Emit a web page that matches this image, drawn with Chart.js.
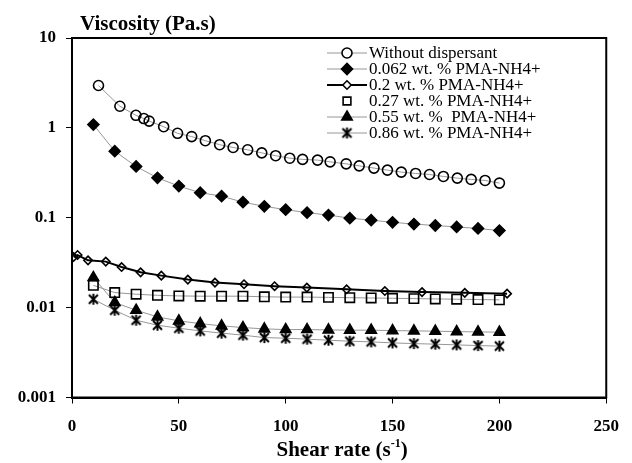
<!DOCTYPE html>
<html>
<head>
<meta charset="utf-8">
<script src="https://cdn.jsdelivr.net/npm/chart.js@4/dist/chart.umd.min.js"></script>
<style>
  html, body { margin: 0; padding: 0; background: #fff; }
  #wrap { width: 632px; height: 463px; position: relative; }
</style>
</head>
<body>
<div id="wrap"><canvas id="chart" width="632" height="463"></canvas></div>
<script>
// shear rates (s-1)
const rateX = [10, 20, 30, 40, 50, 60, 70, 80, 90, 100, 110, 120, 130, 140, 150, 160, 170, 180, 190, 200];
const noDispX = [12.4, 22.4, 29.9, 33.6, 36.1, 42.9, 49.4, 56, 62.4, 69.1, 75.4, 82.2, 88.8, 95.3, 101.9, 107.9, 114.9, 120.8, 128.3, 134.4, 141.3, 147.6, 154.1, 160.8, 167.3, 173.8, 180.3, 186.8, 193.3, 200];
const pma02X = [0.74, 2.6, 7.5, 15.8, 23.2, 32.1, 41.8, 54.2, 66.9, 80.5, 94.8, 109.9, 128.5, 146.4, 163.8, 183.8, 203.6];

// viscosity (Pa.s)
const noDispY = [2.96, 1.74, 1.38, 1.27, 1.19, 1.03, 0.87, 0.80, 0.72, 0.65, 0.605, 0.57, 0.527, 0.49, 0.46, 0.446, 0.438, 0.419, 0.398, 0.378, 0.357, 0.339, 0.322, 0.311, 0.303, 0.288, 0.276, 0.267, 0.26, 0.243];
const pma0062Y = [1.09, 0.55, 0.372, 0.278, 0.225, 0.19, 0.174, 0.149, 0.134, 0.123, 0.114, 0.107, 0.099, 0.094, 0.089, 0.085, 0.082, 0.079, 0.076, 0.072];
const pma02Y = [0.0366, 0.0385, 0.0336, 0.0325, 0.0283, 0.0247, 0.0227, 0.0205, 0.019, 0.0182, 0.0173, 0.0167, 0.016, 0.0153, 0.0149, 0.0146, 0.0143];
const pma027Y = [0.0177, 0.0147, 0.0141, 0.0137, 0.0135, 0.0134, 0.0134, 0.0134, 0.0132, 0.0131, 0.0131, 0.0130, 0.0129, 0.0128, 0.0127, 0.0126, 0.0125, 0.0124, 0.0123, 0.0122];
const pma055Y = [0.0216, 0.0114, 0.00935, 0.00789, 0.00712, 0.00664, 0.00627, 0.0060, 0.0058, 0.0057, 0.0057, 0.00565, 0.00561, 0.00561, 0.00555, 0.00551, 0.00547, 0.00541, 0.00537, 0.00533];
const pma086Y = [0.0124, 0.00935, 0.00724, 0.00637, 0.0059, 0.00551, 0.0052, 0.00494, 0.00464, 0.00457, 0.00446, 0.00434, 0.00423, 0.00416, 0.00405, 0.00398, 0.00392, 0.00385, 0.00378, 0.00373];

const seriesNames = ['Without dispersant', '0.062 wt. % PMA-NH4+', '0.2 wt. % PMA-NH4+', '0.27 wt. % PMA-NH4+', '0.55 wt. %  PMA-NH4+', '0.86 wt. % PMA-NH4+'];
const yTicks = [0.001, 0.01, 0.1, 1, 10];
const yTickLabels = ['0.001', '0.01', '0.1', '1', '10'];
const xTicks = [0, 50, 100, 150, 200, 250];

const SERIF = '"Liberation Serif", "Times New Roman", serif';
const THIN = '#969696';

function pts(xs, ys) {
  return xs.map((x, i) => ({ x: x, y: ys[i] }));
}

// asterisk marker (X with a vertical bar)
function makeStar() {
  const c = document.createElement('canvas');
  c.width = 13; c.height = 13;
  const g = c.getContext('2d');
  g.strokeStyle = '#000';
  g.lineWidth = 2;
  g.beginPath();
  g.moveTo(2, 2); g.lineTo(11, 11);
  g.moveTo(11, 2); g.lineTo(2, 11);
  g.moveTo(6.5, 1); g.lineTo(6.5, 12);
  g.stroke();
  return c;
}
const starImg = makeStar();

function series(label, data, style, radius, fill, lineColor, lineWidth, legendLine) {
  return {
    label: label,
    data: data,
    showLine: true,
    borderColor: lineColor,
    borderWidth: lineWidth,
    pointStyle: style,
    pointRadius: radius,
    pointHoverRadius: radius,
    pointBorderColor: '#000',
    pointBackgroundColor: fill ? '#000' : 'rgba(0,0,0,0)',
    pointBorderWidth: 1.6,
    tension: 0,
    legendLine: legendLine
  };
}

const datasets = [
  series(seriesNames[0], pts(noDispX, noDispY), 'circle', 5, false, THIN, 1, 'thin'),
  series(seriesNames[1], pts(rateX, pma0062Y), 'rectRot', 5.5, true, THIN, 1, 'thin'),
  series(seriesNames[2], pts(pma02X, pma02Y), 'rectRot', 4.2, false, '#000', 2, 'thick'),
  series(seriesNames[3], pts(rateX, pma027Y), 'rect', 6.6, false, THIN, 1, 'none'),
  series(seriesNames[4], pts(rateX, pma055Y), 'triangle', 6, true, THIN, 1, 'thin'),
  series(seriesNames[5], pts(rateX, pma086Y), starImg, 6, false, THIN, 1, 'thin')
];

const framePlugin = {
  id: 'frame',
  afterDatasetsDraw(chart) {
    const a = chart.chartArea;
    const ctx = chart.ctx;
    ctx.save();
    ctx.strokeStyle = '#000';
    ctx.lineWidth = 2;
    ctx.strokeRect(a.left, a.top, a.right - a.left, a.bottom - a.top);
    ctx.restore();
  }
};

const textPlugin = {
  id: 'texts',
  afterDraw(chart) {
    const ctx = chart.ctx;
    const a = chart.chartArea;
    ctx.save();
    ctx.fillStyle = '#000';
    // y title
    ctx.font = 'bold 21px ' + SERIF;
    ctx.textBaseline = 'alphabetic';
    ctx.textAlign = 'left';
    ctx.fillText('Viscosity (Pa.s)', 80, 30);
    // x title with superscript
    const main = 'Shear rate (s';
    const sup = '-1';
    const close = ')';
    ctx.font = 'bold 21px ' + SERIF;
    const w1 = ctx.measureText(main).width;
    const w3 = ctx.measureText(close).width;
    ctx.font = 'bold 12px ' + SERIF;
    const w2 = ctx.measureText(sup).width;
    let x = (a.left + a.right) / 2 - (w1 + w2 + w3) / 2 + 3;
    const base = 456;
    ctx.font = 'bold 21px ' + SERIF;
    ctx.fillText(main, x, base);
    x += w1;
    ctx.font = 'bold 12px ' + SERIF;
    ctx.fillText(sup, x, base - 9);
    x += w2;
    ctx.font = 'bold 21px ' + SERIF;
    ctx.fillText(close, x, base);

    // legend
    const lx0 = 327, lx1 = 367, mx = 347, tx = 369;
    ctx.font = '17px ' + SERIF;
    ctx.textBaseline = 'middle';
    chart.data.datasets.forEach((ds, i) => {
      const y = 53 + 16 * i;
      if (ds.legendLine !== 'none') {
        ctx.beginPath();
        ctx.strokeStyle = ds.borderColor;
        ctx.lineWidth = ds.borderWidth;
        ctx.moveTo(lx0, y);
        ctx.lineTo(lx1, y);
        ctx.stroke();
      }
      ctx.strokeStyle = '#000';
      ctx.fillStyle = ds.pointBackgroundColor === '#000' ? '#000' : '#fff';
      ctx.lineWidth = ds.pointBorderWidth;
      Chart.helpers.drawPoint(ctx, {
        pointStyle: ds.pointStyle,
        rotation: 0,
        radius: ds.pointStyle === 'rect' ? 5.5 : ds.pointRadius,
        borderWidth: ds.pointBorderWidth
      }, mx, y);
      ctx.fillStyle = '#000';
      ctx.fillText(ds.label, tx, y + 1);
    });
    ctx.restore();
  }
};

new Chart(document.getElementById('chart'), {
  type: 'scatter',
  data: { datasets: datasets },
  options: {
    responsive: false,
    animation: false,
    events: [],
    layout: { padding: { top: 38, right: 22, bottom: 0, left: 0 } },
    plugins: {
      legend: { display: false },
      tooltip: { enabled: false },
      title: { display: false }
    },
    scales: {
      x: {
        type: 'linear',
        min: 0,
        max: 250,
        afterBuildTicks: (s) => { s.ticks = xTicks.map(v => ({ value: v })); },
        afterFit: (s) => { s.height = 65.5; },
        ticks: {
          color: '#000',
          padding: 13,
          font: { family: SERIF, size: 17, weight: 'bold' },
          callback: (v) => String(v)
        },
        grid: { drawOnChartArea: false, color: '#000', tickLength: 6, lineWidth: 1 },
        border: { color: '#000', width: 2 }
      },
      y: {
        type: 'logarithmic',
        min: 0.001,
        max: 10,
        afterBuildTicks: (s) => { s.ticks = yTicks.map(v => ({ value: v })); },
        afterFit: (s) => { s.width = 72; },
        ticks: {
          color: '#000',
          padding: 10,
          font: { family: SERIF, size: 17, weight: 'bold' },
          callback: (v) => yTickLabels[yTicks.indexOf(v)] ?? ''
        },
        grid: { drawOnChartArea: false, color: '#000', tickLength: 6, lineWidth: 1 },
        border: { color: '#000', width: 2 }
      }
    }
  },
  plugins: [framePlugin, textPlugin]
});
</script>
</body>
</html>
